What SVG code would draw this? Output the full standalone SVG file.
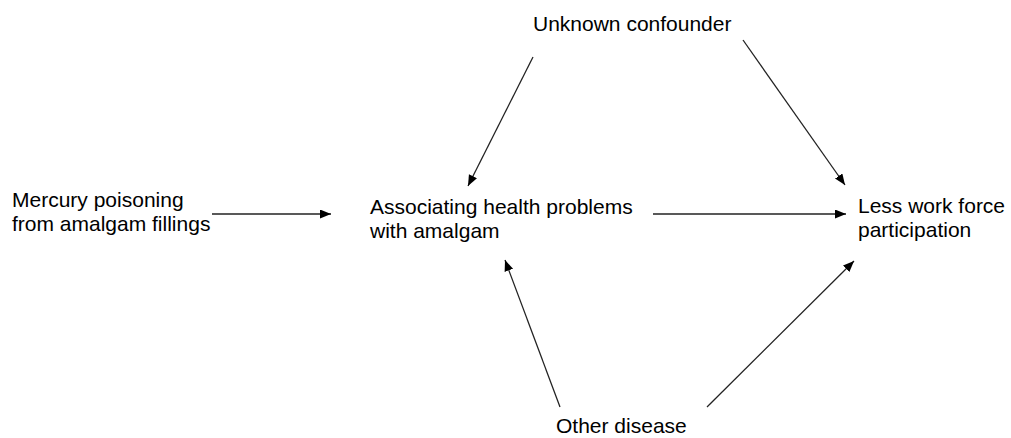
<svg xmlns="http://www.w3.org/2000/svg" width="1011" height="438" viewBox="0 0 1011 438">
<style>
text{font-family:"Liberation Sans",Arial,sans-serif;font-size:21px;fill:#000}
.c line{stroke:#222;stroke-width:1.3;marker-end:url(#ah)}
</style>
<defs>
<marker id="ah" markerUnits="userSpaceOnUse" markerWidth="12" markerHeight="10" refX="11" refY="4.5" orient="auto">
<path d="M0,0 L11,4.5 L0,9 z" fill="#000"/>
</marker>
</defs>
<rect width="1011" height="438" fill="#fff"/>
<g id="mercury"><text x="12" y="207">Mercury poisoning</text><text x="12" y="231">from amalgam fillings</text></g>
<g id="associating"><text x="370" y="214">Associating health problems</text><text x="370" y="238">with amalgam</text></g>
<g id="less"><text x="858" y="213">Less work force</text><text x="858" y="237">participation</text></g>
<g id="unknown"><text x="533" y="31">Unknown confounder</text></g>
<g id="other"><text x="556" y="433">Other disease</text></g>
<g class="c" id="connectors">
<line x1="212" y1="214" x2="331" y2="214"/>
<line x1="653" y1="214" x2="846" y2="214"/>
<line x1="533" y1="57" x2="468" y2="186"/>
<line x1="743" y1="40" x2="845" y2="185"/>
<line x1="560" y1="407" x2="505" y2="260"/>
<line x1="707" y1="407" x2="854" y2="261"/>
</g>
</svg>
